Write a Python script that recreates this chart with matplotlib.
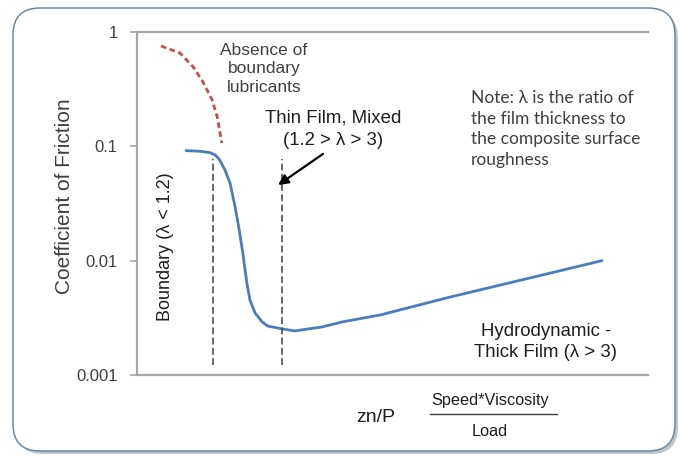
import numpy as np
import matplotlib.pyplot as plt
from matplotlib.patches import FancyBboxPatch
from matplotlib.lines import Line2D
from matplotlib.ticker import NullLocator
from matplotlib.transforms import IdentityTransform

# Stribeck curve (x is an unitless zn/P position, 0..100)
stribeck_x = [9.6, 12.3, 14.3, 15.3, 16.2, 17.2, 18.2, 19.2, 20.0, 20.7,
              21.5, 22.1, 23.1, 24.5, 25.6, 28.4, 30.9, 33.5, 36.2, 40.1,
              47.6, 61.3, 76.9, 91.0]
stribeck_y = [0.0917, 0.0906, 0.0881, 0.0841, 0.0761, 0.0622, 0.0479,
              0.0295, 0.0186, 0.0117, 0.00638, 0.00453, 0.00349, 0.00291,
              0.00268, 0.00253, 0.00243, 0.00253, 0.00263, 0.00291,
              0.00335, 0.00481, 0.00706, 0.0100]

# no boundary lubricant branch
dry_x = [4.7, 8.4, 11.0, 12.9, 14.7, 15.7, 16.6]
dry_y = [0.755, 0.656, 0.495, 0.366, 0.255, 0.181, 0.107]

# regime borders
border_x = [14.9, 28.4]
border_lo = 0.00122
border_hi = 0.0776

arrow_tail = (36.4, 0.0858)
arrow_head = (27.6, 0.0459)

y_ticks = [0.001, 0.01, 0.1, 1]
y_tick_labels = ['0.001', '0.01', '0.1', '1']

W, H = 681, 457
SANS = ['Liberation Sans', 'DejaVu Sans']


def px(x, y):
    return x / W, 1 - y / H


def main():
    fig = plt.figure(figsize=(W / 100, H / 100), dpi=100)
    fig.patch.set_facecolor('white')

    # rounded slide frame with a small shadow
    shadow = FancyBboxPatch((16, 3), 662, 443,
                            boxstyle='round,pad=0,rounding_size=27',
                            transform=IdentityTransform(),
                            facecolor='#c4c4c4', edgecolor='none', zorder=0)
    frame = FancyBboxPatch((13, 6), 662, 443,
                           boxstyle='round,pad=0,rounding_size=27',
                           transform=IdentityTransform(),
                           facecolor='white', edgecolor='#6a8aa3', lw=1.1,
                           zorder=1)
    fig.patches.extend([shadow, frame])

    ax = fig.add_axes([137 / W, (H - 375) / H, 511 / W, 343 / H])
    ax.set_zorder(2)
    ax.patch.set_alpha(0)
    ax.set_yscale('log')
    ax.set_xlim(0, 100)
    ax.set_ylim(0.001, 1)
    ax.set_xticks([])
    ax.set_yticks(y_ticks, y_tick_labels)
    ax.yaxis.set_minor_locator(NullLocator())
    ax.spines['right'].set_visible(False)
    for s in ['left', 'top', 'bottom']:
        ax.spines[s].set_color('#a6a6a6')
        ax.spines[s].set_linewidth(1.6)
    ax.tick_params(axis='y', direction='out', length=5, width=1.2,
                   color='#a6a6a6', labelsize=12, labelcolor='#404040',
                   pad=9)
    for lab in ax.get_yticklabels():
        lab.set_family(SANS)

    ax.plot(stribeck_x, stribeck_y, color='#4a7ebb', lw=2.0,
            solid_capstyle='round', solid_joinstyle='round')
    ax.plot(dry_x, dry_y, color='#c0504d', lw=2.0, ls=(0, (2.0, 1.3)))
    ax.vlines(border_x, border_lo, border_hi, colors='#404040',
              linestyles=(0, (4.5, 2.2)), lw=1.1)
    ax.annotate('', xy=arrow_head, xytext=arrow_tail,
                arrowprops=dict(arrowstyle='-|>', color='black', lw=1.6,
                                mutation_scale=15, shrinkA=0, shrinkB=0))

    fig.text(*px(65, 196), 'Coefficient of Friction', rotation=90,
             ha='center', va='center', fontsize=15, color='#404040',
             family=SANS)
    fig.text(*px(264, 69), 'Absence of\nboundary\nlubricants',
             ha='center', va='center', fontsize=12.5, color='#404040',
             linespacing=1.3, family=SANS)
    fig.text(*px(333, 129), 'Thin Film, Mixed\n(1.2 > λ > 3)',
             ha='center', va='center', fontsize=13.4, color='#1e1e1e',
             linespacing=1.4, family=SANS)
    fig.text(*px(471, 129),
             'Note: λ is the ratio of\nthe film thickness to\n'
             'the composite surface\nroughness',
             ha='left', va='center', fontsize=12.5, color='#404040',
             linespacing=1.35, family=['Lato', 'DejaVu Sans'])
    fig.text(*px(165, 247), 'Boundary (λ < 1.2)', rotation=90,
             ha='center', va='center', fontsize=13, color='#1e1e1e',
             family=SANS)
    fig.text(*px(546, 342), 'Hydrodynamic -\nThick Film (λ > 3)',
             ha='center', va='center', fontsize=13.4, color='#1e1e1e',
             linespacing=1.35, family=SANS)
    fig.text(*px(376, 418), 'zn/P', ha='center', va='center',
             fontsize=14, color='#1e1e1e', family=SANS)
    fig.text(*px(490, 401), 'Speed*Viscosity', ha='center', va='center',
             fontsize=11.7, color='#1e1e1e', family=SANS)
    fig.text(*px(490, 431), 'Load', ha='center', va='center',
             fontsize=11.7, color='#1e1e1e', family=SANS)
    x0, y0 = px(430, 414)
    x1, _ = px(557, 414)
    fig.add_artist(Line2D([x0, x1], [y0, y0], color='#404040', lw=1.0))

    fig.savefig('out.png', dpi=100)


if __name__ == '__main__':
    main()
